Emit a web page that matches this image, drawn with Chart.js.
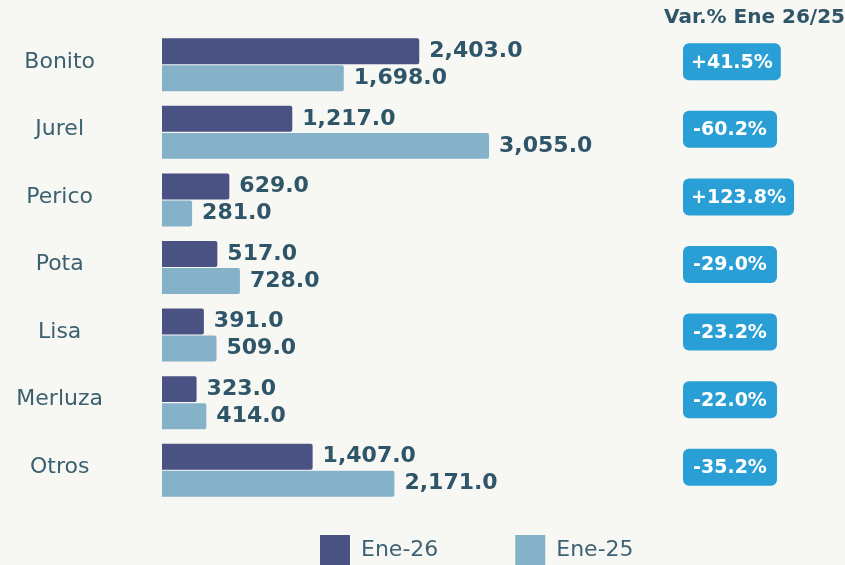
<!DOCTYPE html>
<html>
<head>
<meta charset="utf-8">
<script src="https://cdn.jsdelivr.net/npm/chart.js@4.4.1/dist/chart.umd.min.js"></script>
<style>
    html, body { margin: 0; padding: 0; background: #f7f7f3; }
    #wrap { width: 845px; height: 565px; }
</style>
</head>
<body>
<div id="wrap"><canvas id="landingsChart" width="845" height="565"></canvas></div>
<script>
const species = ['Bonito', 'Jurel', 'Perico', 'Pota', 'Lisa', 'Merluza', 'Otros'];
const ene26 = [2403, 1217, 629, 517, 391, 323, 1407];
const ene25 = [1698, 3055, 281, 728, 509, 414, 2171];
const variation = ['+41.5%', '-60.2%', '+123.8%', '-29.0%', '-23.2%', '-22.0%', '-35.2%'];
const seriesNames = ['Ene-26', 'Ene-25'];
const badgeTitle = 'Var.% Ene 26/25';

const FONT = '"DejaVu Sans", sans-serif';
const TEXT_DARK = '#2f5568';

// numbers at the end of every bar
const valueLabels = {
    id: 'valueLabels',
    afterDatasetsDraw(chart) {
        const ctx = chart.ctx;
        ctx.save();
        ctx.font = 'bold 22px ' + FONT;
        ctx.fillStyle = TEXT_DARK;
        ctx.textAlign = 'left';
        ctx.textBaseline = 'middle';
        chart.data.datasets.forEach((ds, di) => {
            const meta = chart.getDatasetMeta(di);
            meta.data.forEach((bar, i) => {
                const txt = ds.data[i].toLocaleString('en-US', {minimumFractionDigits: 1, maximumFractionDigits: 1});
                ctx.fillText(txt, bar.x + 10, bar.y);
            });
        });
        ctx.restore();
    }
};

// blue pills with the variation on the right
const variationBadges = {
    id: 'variationBadges',
    afterDraw(chart) {
        const ctx = chart.ctx;
        const yScale = chart.scales.y;
        ctx.save();
        ctx.font = 'bold 20px ' + FONT;
        ctx.fillStyle = TEXT_DARK;
        ctx.textAlign = 'right';
        ctx.textBaseline = 'middle';
        ctx.fillText(badgeTitle, 845, 18);

        ctx.font = 'bold 19px ' + FONT;
        ctx.textAlign = 'center';
        variation.forEach((v, i) => {
            const cy = yScale.getPixelForValue(i) - 3;
            const w = Math.max(94, ctx.measureText(v).width + 16);
            const left = 683;
            ctx.fillStyle = '#2a9fd6';
            ctx.beginPath();
            ctx.roundRect(left, cy - 18.5, w, 37, 6);
            ctx.fill();
            ctx.fillStyle = '#ffffff';
            ctx.fillText(v, left + w / 2, cy + 1);
        });
        ctx.restore();
    }
};

// move the legend row under the bars, like the original
const legendPlace = {
    id: 'legendPlace',
    beforeDraw(chart) {
        const lg = chart.legend;
        const h = lg.height;
        lg.left = 299;
        lg.top = 514;
        lg.bottom = lg.top + h;
    }
};

const ctx = document.getElementById('landingsChart').getContext('2d');

new Chart(ctx, {
    type: 'bar',
    data: {
        labels: species,
        datasets: [
            {
                label: seriesNames[0],
                data: ene26,
                backgroundColor: '#4a5183',
                borderWidth: 0,
                borderRadius: 2,
                categoryPercentage: 0.8,
                barPercentage: 0.96
            },
            {
                label: seriesNames[1],
                data: ene25,
                backgroundColor: '#85b2c9',
                borderWidth: 0,
                borderRadius: 2,
                categoryPercentage: 0.8,
                barPercentage: 0.96
            }
        ]
    },
    options: {
        indexAxis: 'y',
        responsive: false,
        animation: false,
        events: [],
        layout: {
            padding: { top: 31, left: 0, right: 0, bottom: 0 }
        },
        plugins: {
            tooltip: { enabled: false },
            legend: {
                position: 'bottom',
                align: 'start',
                labels: {
                    boxWidth: 30,
                    boxHeight: 30,
                    padding: 21,
                    color: '#3d6273',
                    font: { family: FONT, size: 22 },
                    generateLabels(chart) {
                        const items = Chart.defaults.plugins.legend.labels.generateLabels(chart);
                        items[0].text = items[0].text + '        ';
                        return items;
                    }
                }
            }
        },
        scales: {
            x: {
                display: false,
                min: 0,
                max: 6380
            },
            y: {
                grid: { display: false, drawTicks: false },
                border: { display: false },
                ticks: {
                    padding: 59,
                    labelOffset: -3,
                    crossAlign: 'center',
                    color: '#3b6070',
                    font: { family: FONT, size: 22 }
                },
                afterFit(scale) {
                    scale.width = 162;
                    scale.paddingTop = 0;
                    scale.paddingBottom = 0;
                }
            }
        }
    },
    plugins: [valueLabels, variationBadges, legendPlace]
});
</script>
</body>
</html>
